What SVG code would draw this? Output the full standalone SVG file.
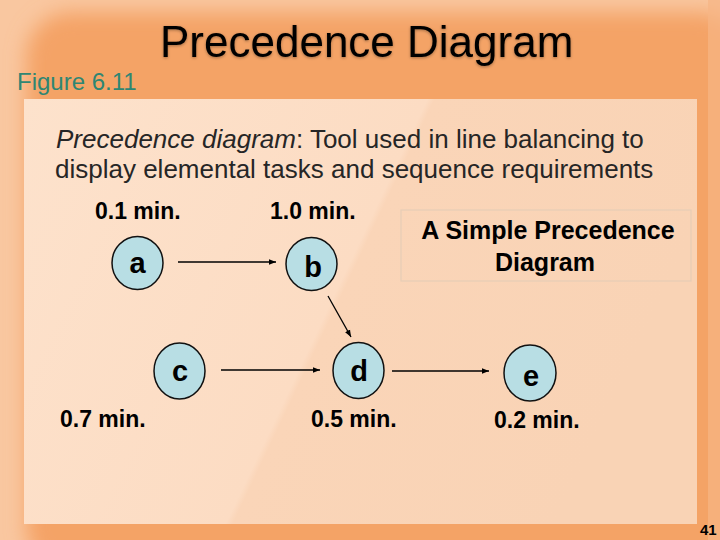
<svg xmlns="http://www.w3.org/2000/svg" width="720" height="540" viewBox="0 0 720 540">
  <defs>
    <filter id="blur" x="-10%" y="-10%" width="120%" height="120%"><feGaussianBlur stdDeviation="10"/></filter>
    <filter id="shadow" x="-5%" y="-5%" width="110%" height="110%"><feDropShadow dx="0" dy="1" stdDeviation="1.5" flood-color="#000" flood-opacity="0.35"/></filter>
    <linearGradient id="panel" x1="0" y1="0" x2="1" y2="0.3">
      <stop offset="0" stop-color="#FDE2CC"/>
      <stop offset="0.55" stop-color="#FCDCC3"/>
      <stop offset="0.56" stop-color="#FAD5B8"/>
      <stop offset="1" stop-color="#F9D3B5"/>
    </linearGradient>
    <marker id="arr" viewBox="0 0 10 10" refX="10" refY="5" markerWidth="7" markerHeight="7" markerUnits="userSpaceOnUse" orient="auto">
      <path d="M0,1 L10,5 L0,9 z" fill="#000"/>
    </marker>
    <style>
      .node ellipse { fill: #B8DEE4; stroke: #111; stroke-width: 1.5; }
      .lbl { font-family: "Liberation Sans", Arial, sans-serif; font-weight: bold; fill: #000; }
      .nl { font-size: 29px; text-anchor: middle; }
      .tm { font-size: 23px; }
      .conn line { stroke: #000; stroke-width: 1.3; marker-end: url(#arr); }
    </style>
  </defs>

  <!-- background -->
  <rect x="0" y="0" width="720" height="540" fill="#F9C7A0"/>
  <rect x="26" y="12" width="720" height="560" rx="45" fill="#F4A366" filter="url(#blur)"/>
  <rect x="708" y="0" width="12" height="540" fill="#F7B584" opacity="0.7"/>
  <rect x="24" y="99" width="673" height="425" fill="url(#panel)"/>

  <!-- titles -->
  <text x="160" y="57" font-family="'Liberation Sans', Arial, sans-serif" font-size="44" fill="#000" filter="url(#shadow)">Precedence Diagram</text>
  <text x="17" y="90" font-family="'Liberation Sans', Arial, sans-serif" font-size="24" fill="#2E8673">Figure 6.11</text>

  <text font-family="'Liberation Sans', Arial, sans-serif" font-size="26" fill="#262626">
    <tspan x="56" y="148"><tspan font-style="italic">Precedence diagram</tspan>: Tool used in line balancing to</tspan>
    <tspan x="55" y="178">display elemental tasks and sequence requirements</tspan>
  </text>

  <!-- connectors -->
  <g id="connectors" class="conn">
    <line x1="178" y1="262" x2="276" y2="262"/>
    <line x1="328" y1="296" x2="351" y2="337"/>
    <line x1="221" y1="370" x2="320" y2="370"/>
    <line x1="392" y1="371" x2="489" y2="371"/>
  </g>

  <!-- nodes -->
  <g id="node-a" class="node">
    <ellipse cx="137.5" cy="263" rx="25.5" ry="26.5"/>
    <text class="lbl nl" x="137.5" y="273">a</text>
    <text class="lbl tm" x="95" y="219">0.1 min.</text>
  </g>
  <g id="node-b" class="node">
    <ellipse cx="311.5" cy="264" rx="25.5" ry="26.5"/>
    <text class="lbl nl" x="313" y="277">b</text>
    <text class="lbl tm" x="270" y="219">1.0 min.</text>
  </g>
  <g id="node-c" class="node">
    <ellipse cx="179.5" cy="371" rx="25.5" ry="28"/>
    <text class="lbl nl" x="180" y="381">c</text>
    <text class="lbl tm" x="60" y="427">0.7 min.</text>
  </g>
  <g id="node-d" class="node">
    <ellipse cx="358.5" cy="370.5" rx="25.5" ry="28"/>
    <text class="lbl nl" x="359" y="381">d</text>
    <text class="lbl tm" x="311" y="427">0.5 min.</text>
  </g>
  <g id="node-e" class="node">
    <ellipse cx="530" cy="373" rx="26" ry="28"/>
    <text class="lbl nl" x="531" y="386">e</text>
    <text class="lbl tm" x="494" y="428">0.2 min.</text>
  </g>

  <!-- caption box -->
  <g id="caption">
    <rect x="401" y="210" width="290" height="71" fill="none" stroke="#E6CDB6" stroke-width="1.2"/>
    <text class="lbl" font-size="25" text-anchor="middle" x="548" y="239">A Simple Precedence</text>
    <text class="lbl" font-size="25" text-anchor="middle" x="545" y="271">Diagram</text>
  </g>

  <text class="lbl" font-size="15" x="700" y="535">41</text>
</svg>
